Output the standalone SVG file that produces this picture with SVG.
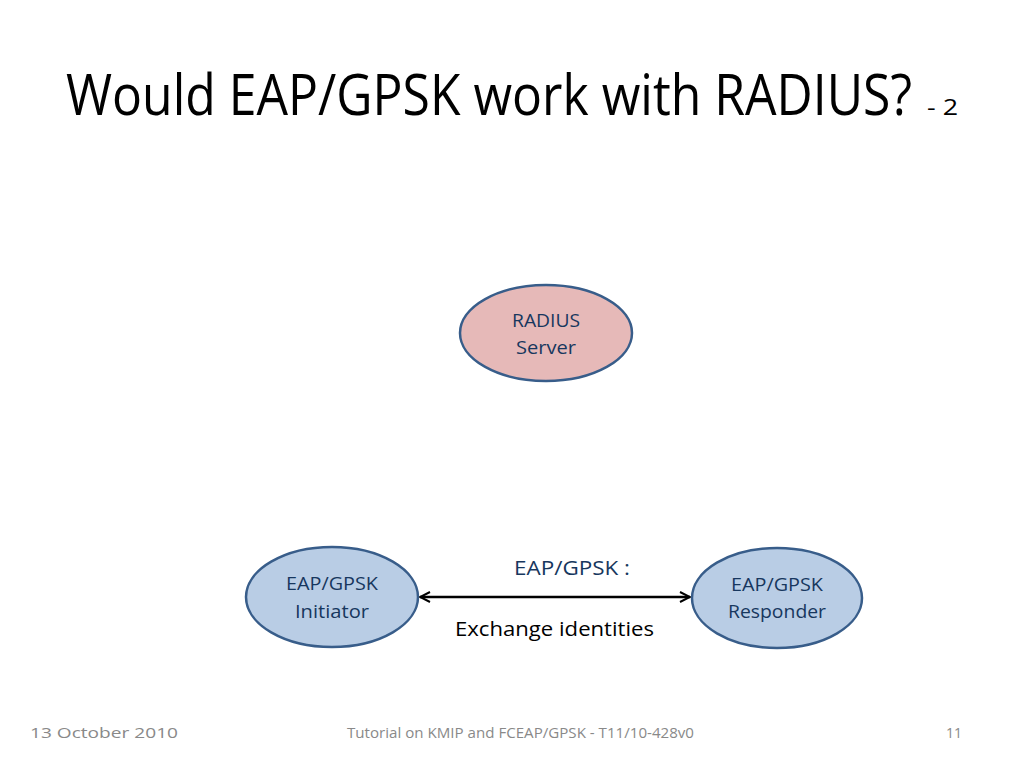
<svg xmlns="http://www.w3.org/2000/svg" width="1024" height="768" viewBox="0 0 1024 768">
<style>
.t{font-family:"Open Sans","Liberation Sans",sans-serif}
.node{stroke:#385d8a;stroke-width:2.5}
.blue{fill:#b9cde5}
.pink{fill:#e6b9b8}
.lbl{font-size:19px;fill:#17375e;text-anchor:middle}
.foot{font-size:14px;fill:#898989}
</style>
<defs>
<marker id="ah" viewBox="0 0 10 10" refX="9" refY="5" markerWidth="5" markerHeight="5" orient="auto-start-reverse" markerUnits="strokeWidth">
<path d="M1,1 L9,5 L1,9" fill="none" stroke="#000" stroke-width="1.6"/>
</marker>
</defs>
<rect width="1024" height="768" fill="#fff"/>
<text class="t" y="115"><tspan x="66" font-size="56" textLength="846" lengthAdjust="spacingAndGlyphs">Would EAP/GPSK work with RADIUS?</tspan><tspan x="927" font-size="22" textLength="31" lengthAdjust="spacingAndGlyphs">- 2</tspan></text>
<g id="radius">
<ellipse class="node pink" cx="546" cy="333" rx="86" ry="48"/>
<text class="t lbl" x="546" y="327" textLength="68" lengthAdjust="spacingAndGlyphs">RADIUS</text>
<text class="t lbl" x="546" y="354" textLength="60" lengthAdjust="spacingAndGlyphs">Server</text>
</g>
<g id="initiator">
<ellipse class="node blue" cx="332" cy="597" rx="86" ry="50"/>
<text class="t lbl" x="332" y="590" textLength="92" lengthAdjust="spacingAndGlyphs">EAP/GPSK</text>
<text class="t lbl" x="332" y="618" textLength="74" lengthAdjust="spacingAndGlyphs">Initiator</text>
</g>
<g id="responder">
<ellipse class="node blue" cx="777" cy="598" rx="85" ry="50"/>
<text class="t lbl" x="777" y="591" textLength="92" lengthAdjust="spacingAndGlyphs">EAP/GPSK</text>
<text class="t lbl" x="777" y="618" textLength="98" lengthAdjust="spacingAndGlyphs">Responder</text>
</g>
<g id="connectors">
<line x1="420" y1="597" x2="690" y2="597" stroke="#000" stroke-width="2.5" marker-start="url(#ah)" marker-end="url(#ah)"/>
</g>
<text class="t" x="514" y="575" font-size="20" fill="#17375e" textLength="116" lengthAdjust="spacingAndGlyphs">EAP/GPSK :</text>
<text class="t" x="455" y="636" font-size="20" fill="#000" textLength="199" lengthAdjust="spacingAndGlyphs">Exchange identities</text>
<text class="t foot" x="30" y="738" textLength="148" lengthAdjust="spacingAndGlyphs">13 October 2010</text>
<text class="t foot" x="347" y="738" textLength="347" lengthAdjust="spacingAndGlyphs">Tutorial on KMIP and FCEAP/GPSK - T11/10-428v0</text>
<text class="t foot" x="946" y="738" textLength="16" lengthAdjust="spacingAndGlyphs">11</text>
</svg>
